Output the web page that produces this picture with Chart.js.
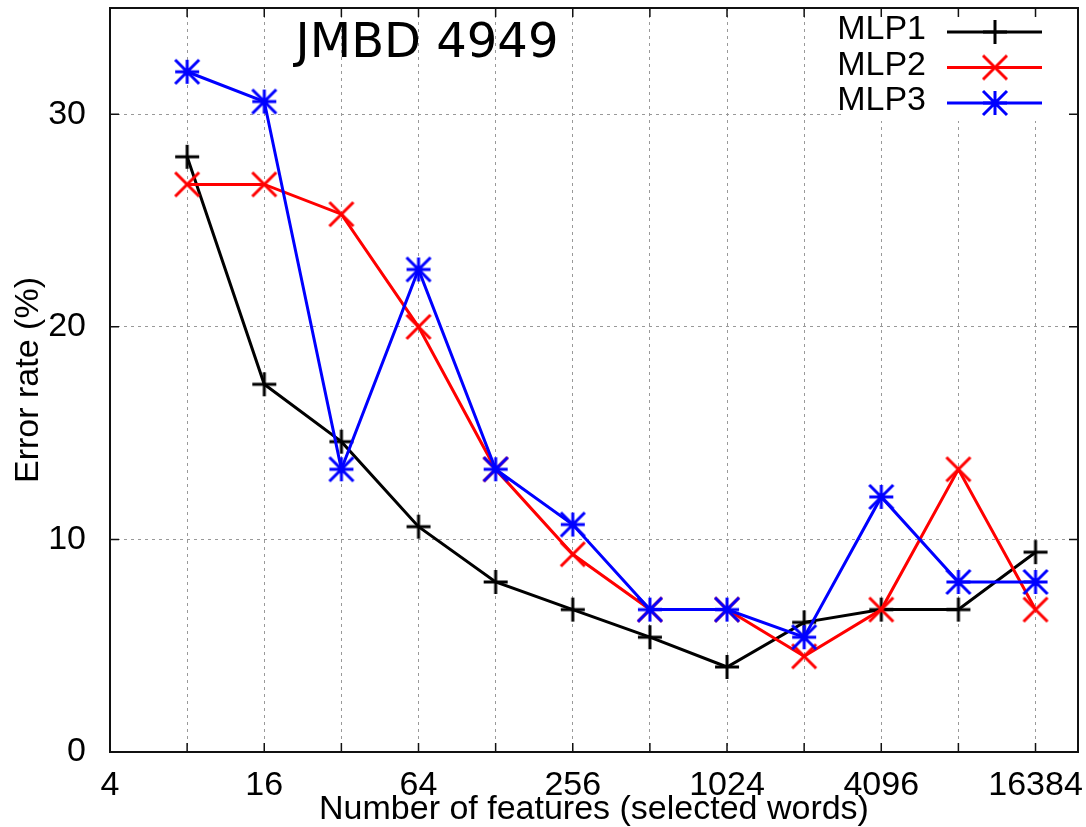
<!DOCTYPE html>
<html lang="en">
<head>
<meta charset="UTF-8" />
<title>JMBD 4949 - error rate vs features</title>
<script src="https://cdn.jsdelivr.net/npm/chart.js"></script>
<style>
  body { margin: 0; background: #fff; }
  #wrap { width: 1086px; height: 827px; }
</style>
</head>
<body>
<div id="wrap"><canvas id="errChart" width="1086" height="827"></canvas></div>
<script>
// number of selected words (x) and error rate in % for each network
const features = [8, 16, 32, 64, 128, 256, 512, 1024, 2048, 4096, 8192, 16384];
const mlp1 = [28.0, 17.3, 14.6, 10.6, 8.0, 6.7, 5.4, 4.0, 6.1, 6.7, 6.7, 9.4];
const mlp2 = [26.7, 26.7, 25.3, 20.0, 13.3, 9.3, 6.7, 6.7, 4.5, 6.7, 13.3, 6.7];
const mlp3 = [32.0, 30.6, 13.3, 22.7, 13.3, 10.7, 6.7, 6.7, 5.4, 12.0, 8.0, 8.0];

const xTicks = [4, 8, 16, 32, 64, 128, 256, 512, 1024, 2048, 4096, 8192, 16384];
const xLabels = [4, 16, 64, 256, 1024, 4096, 16384];
const yTicks = [0, 10, 20, 30];

const FONT = 'Liberation Sans, Arial, sans-serif';

// gnuplot-like point symbols
function marker(kind, color) {
  const c = document.createElement('canvas');
  c.width = c.height = 30;
  const g = c.getContext('2d');
  const m = 15, r = 12;
  g.strokeStyle = color;
  g.lineWidth = 3;
  g.beginPath();
  if (kind !== 'x') {
    g.moveTo(m - r, m); g.lineTo(m + r, m);
    g.moveTo(m, m - r); g.lineTo(m, m + r);
  }
  if (kind !== 'plus') {
    g.moveTo(m - r, m - r); g.lineTo(m + r, m + r);
    g.moveTo(m - r, m + r); g.lineTo(m + r, m - r);
  }
  g.stroke();
  return c;
}

const series = [
  { label: 'MLP1', values: mlp1, color: '#000000', sym: marker('plus', '#000000') },
  { label: 'MLP2', values: mlp2, color: '#ff0000', sym: marker('x', '#ff0000') },
  { label: 'MLP3', values: mlp3, color: '#0000ff', sym: marker('star', '#0000ff') }
];

const gnuFrame = {
  id: 'gnuFrame',
  beforeDatasetsDraw(chart) {
    // opaque key box, top right
    const { ctx, chartArea: a } = chart;
    ctx.save();
    ctx.fillStyle = '#fff';
    ctx.fillRect(a.right - 235, a.top + 1, 234, 112);
    ctx.restore();
  },
  afterDraw(chart) {
    const { ctx, chartArea: a, scales } = chart;
    ctx.save();
    // border
    ctx.strokeStyle = '#111';
    ctx.lineWidth = 2;
    ctx.strokeRect(a.left, a.top, a.right - a.left, a.bottom - a.top);
    // inward ticks
    ctx.lineWidth = 1.5;
    ctx.beginPath();
    xTicks.forEach(v => {
      const px = scales.x.getPixelForValue(v);
      ctx.moveTo(px, a.bottom); ctx.lineTo(px, a.bottom - 9);
      ctx.moveTo(px, a.top); ctx.lineTo(px, a.top + 9);
    });
    yTicks.forEach(v => {
      const py = scales.y.getPixelForValue(v);
      ctx.moveTo(a.left, py); ctx.lineTo(a.left + 9, py);
      ctx.moveTo(a.right, py); ctx.lineTo(a.right - 9, py);
    });
    ctx.stroke();

    // key
    ctx.font = '34px ' + FONT;
    ctx.textAlign = 'right';
    ctx.textBaseline = 'alphabetic';
    series.forEach((s, i) => {
      const yy = a.top + 24 + i * 35.5;
      ctx.fillStyle = '#000';
      ctx.fillText(s.label, a.right - 152, yy + 7);
      ctx.strokeStyle = s.color;
      ctx.lineWidth = 3;
      ctx.beginPath();
      ctx.moveTo(a.right - 131, yy);
      ctx.lineTo(a.right - 36, yy);
      ctx.stroke();
      ctx.drawImage(s.sym, a.right - 83 - 15, yy - 15);
    });

    // title inside the plot
    ctx.fillStyle = '#000';
    ctx.font = '48px DejaVu Sans';
    ctx.textAlign = 'center';
    ctx.fillText('JMBD 4949', a.left + 317, 57);
    ctx.restore();
  }
};

new Chart(document.getElementById('errChart'), {
  type: 'line',
  data: {
    datasets: series.map((s, i) => ({
      label: s.label,
      data: features.map((f, k) => ({ x: f, y: s.values[k] })),
      borderColor: s.color,
      backgroundColor: s.color,
      borderWidth: 3,
      pointStyle: s.sym,
      pointRadius: 12,
      tension: 0,
      fill: false,
      order: 3 - i
    }))
  },
  options: {
    responsive: false,
    animation: false,
    layout: { autoPadding: false, padding: { top: 8, right: 8, left: 0, bottom: 0 } },
    plugins: {
      legend: { display: false },
      tooltip: { enabled: false }
    },
    scales: {
      x: {
        type: 'logarithmic',
        min: 4,
        max: 24000,
        afterBuildTicks: ax => { ax.ticks = xTicks.map(v => ({ value: v })); },
        afterFit: ax => {
          ax.height = 75;
          ax.paddingLeft = 0;
          ax.paddingRight = 0;
        },
        ticks: {
          autoSkip: false,
          maxRotation: 0,
          padding: 13,
          color: '#000',
          font: { family: FONT, size: 34 },
          callback: v => xLabels.includes(v) ? String(v) : ''
        },
        grid: {
          drawTicks: false,
          lineWidth: 1,
          color: c => (c.tick && c.tick.value === 4) ? 'rgba(0,0,0,0)' : '#999'
        },
        border: { display: false, dash: [3, 4] },
        title: {
          display: true,
          text: 'Number of features (selected words)',
          color: '#000',
          font: { family: FONT, size: 34, lineHeight: 1 },
          padding: { top: 0, bottom: 0 }
        }
      },
      y: {
        min: 0,
        max: 35,
        afterBuildTicks: ax => { ax.ticks = yTicks.map(v => ({ value: v })); },
        afterFit: ax => {
          ax.width = 110;
          ax.paddingTop = 0;
          ax.paddingBottom = 0;
        },
        ticks: {
          padding: 24,
          color: '#000',
          font: { family: FONT, size: 34 }
        },
        grid: {
          drawTicks: false,
          lineWidth: 1,
          color: c => (c.tick && c.tick.value === 0) ? 'rgba(0,0,0,0)' : '#999'
        },
        border: { display: false, dash: [3, 4] },
        title: {
          display: true,
          text: 'Error rate (%)',
          color: '#000',
          font: { family: FONT, size: 34, lineHeight: 1 },
          padding: { top: 12, bottom: 0 }
        }
      }
    }
  },
  plugins: [gnuFrame]
});
</script>
</body>
</html>
